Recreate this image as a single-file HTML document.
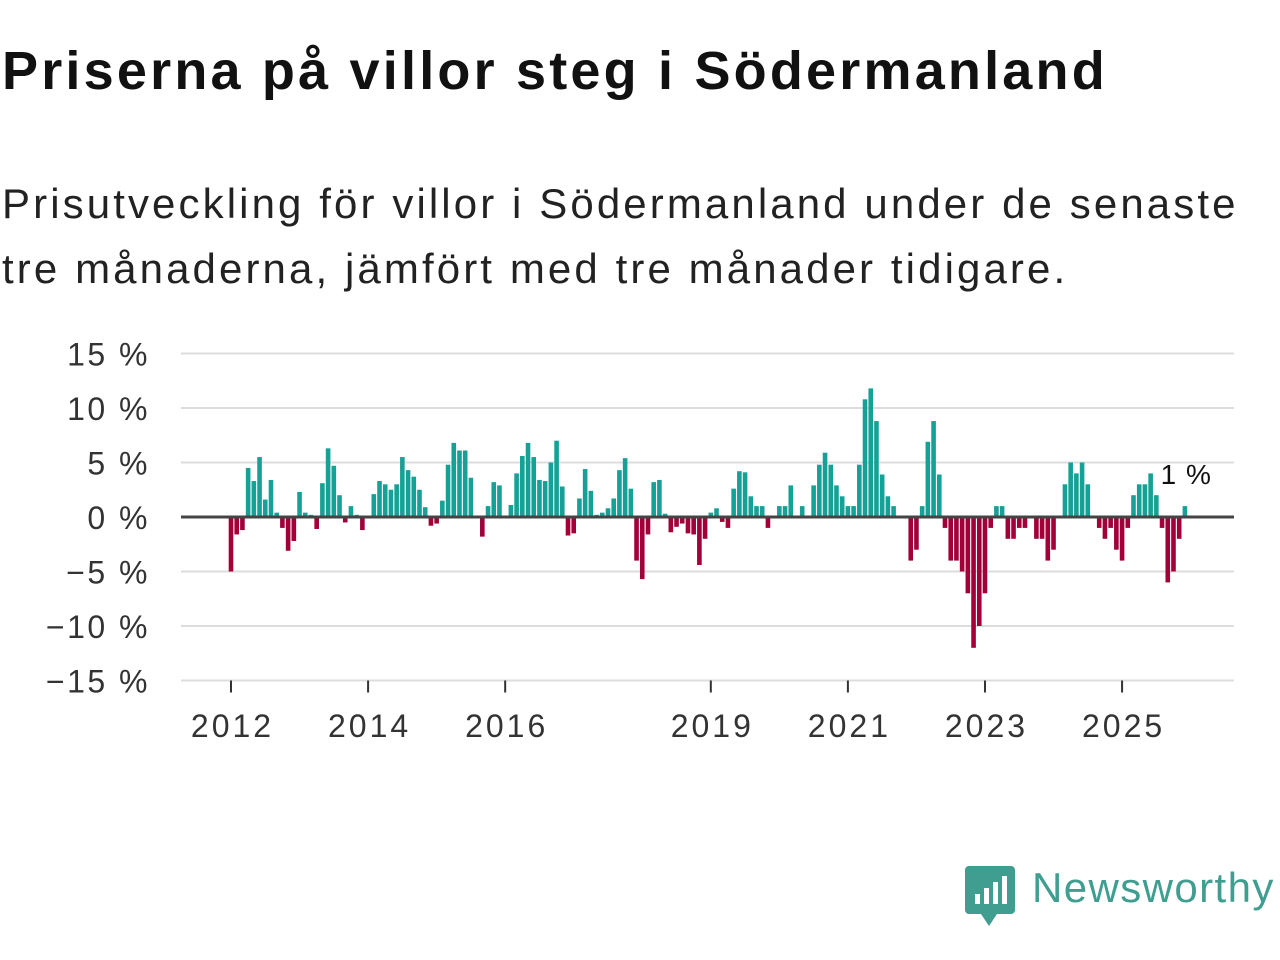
<!DOCTYPE html>
<html><head><meta charset="utf-8"><style>
body{margin:0;width:1280px;height:960px;background:#fff;font-family:"Liberation Sans",sans-serif;overflow:hidden;position:relative}
h1{position:absolute;left:2px;top:40px;margin:0;font-size:54px;font-weight:bold;color:#111;letter-spacing:3.2px;white-space:nowrap}
.sub{position:absolute;left:2px;top:171px;margin:0;font-size:42px;line-height:65px;color:#222;letter-spacing:3.1px;white-space:nowrap}
</style></head><body>
<h1>Priserna på villor steg i Södermanland</h1>
<p class="sub">Prisutveckling för villor i Södermanland under de senaste<br>tre månaderna, jämfört med tre månader tidigare.</p>
<svg id="chart" width="1280" height="960" style="position:absolute;left:0;top:0"></svg>
<div style="position:absolute;left:965px;top:866px">
<svg width="52" height="60"><path d="M4 0h42a4 4 0 0 1 4 4v40a4 4 0 0 1-4 4H32l-8 12-8-12H4a4 4 0 0 1-4-4V4a4 4 0 0 1 4-4z" fill="#3f9e90"/><rect x="10" y="28" width="5" height="10" fill="#fff"/><rect x="19" y="22" width="5" height="16" fill="#fff"/><rect x="28" y="16" width="5" height="22" fill="#fff"/><rect x="37" y="10" width="5" height="28" fill="#fff"/></svg>
</div>
<div style="position:absolute;left:1032px;top:864px;font-size:42px;color:#3f9e90;letter-spacing:1.4px">Newsworthy</div>
<script>
const yTicks=[15,10,5,0,-5,-10,-15];
const yearLabels=["2012","2014","2016","2019","2021","2023","2025"];
const yearIndex=[0,24,48,84,108,132,156];
const values=[-5,-1.6,-1.2,4.5,3.3,5.5,1.6,3.4,0.4,-1,-3.1,-2.2,2.3,0.4,0.2,-1.1,3.1,6.3,4.7,2,-0.5,1,0.2,-1.2,0,2.1,3.3,3,2.5,3,5.5,4.3,3.7,2.5,0.9,-0.8,-0.6,1.5,4.8,6.8,6.1,6.1,3.6,0,-1.8,1,3.2,2.9,0,1.1,4,5.6,6.8,5.5,3.4,3.3,5,7,2.8,-1.7,-1.5,1.7,4.4,2.4,0.2,0.4,0.8,1.7,4.3,5.4,2.6,-4,-5.7,-1.6,3.2,3.4,0.3,-1.4,-0.9,-0.6,-1.5,-1.6,-4.4,
-2,0.4,0.8,-0.45,-1,2.6,4.2,4.1,1.9,1,1,-1,0,1,1,2.9,0,1,0,2.9,4.8,5.9,4.8,2.9,1.9,1,1,4.8,10.8,11.8,8.8,3.9,1.9,1,0,0,-4,-3,1,6.9,8.8,3.9,-1,
-4,-4,-5,-7,-12,-10,-7,-1,1,1,-2,-2,-1,-1,0,-2,-2,-4,-3,0,3,5,4,5,3,0,-1,-2,-1,-3,-4,-1,2,3,3,4,2,-1,-6,-5,-2,1];
const lastLabel="1 %";
const NS="http://www.w3.org/2000/svg";
const svg=document.getElementById('chart');
const X0=181,X1=1234;
function y(v){return 517-v*10.9;}
function x(i){return 231+i*5.712;}
function mk(t,a,txt){const e=document.createElementNS(NS,t);for(const k in a)e.setAttribute(k,a[k]);if(txt!==undefined)e.textContent=txt;svg.appendChild(e);return e;}
yTicks.forEach(v=>{
  if(v!==0&&v!==-15){const g=mk('line',{x1:X0,x2:X1,y1:y(v),y2:y(v),stroke:'#ddd','stroke-width':2});
  
  }
  const t=mk('text',{x:150,y:y(v)+12,'text-anchor':'end','font-size':32,fill:'#333','letter-spacing':2.5,'font-family':'Liberation Sans, sans-serif'},(v<0?'\u2212'+(-v):v)+' %');
  
  
});
const ax=mk('line',{x1:X0,x2:X1,y1:y(-15),y2:y(-15),stroke:'#ddd','stroke-width':2});


yearLabels.forEach((l,k)=>{
  const xx=x(yearIndex[k]);
  const tk=mk('line',{x1:xx,x2:xx,y1:y(-15),y2:y(-15)+12,stroke:'#333','stroke-width':2});
  
  
  const t=mk('text',{x:xx+1.5,y:737,'text-anchor':'middle','font-size':32,fill:'#333','letter-spacing':3,'font-family':'Liberation Sans, sans-serif'},l);
  
  
});
values.forEach((v,i)=>{
  if(v===0)return;
  const top=Math.min(y(v),y(0)),h=Math.abs(y(v)-y(0));
  const r=mk('rect',{x:x(i)-2.3,y:top,width:4.6,height:h,fill:v>0?'#16a196':'#a10039'});
  
  
});
const z=mk('line',{x1:X0,x2:X1,y1:y(0),y2:y(0),stroke:'#444','stroke-width':3});


const n=values.length-1;
const lb=mk('text',{x:x(n)+27,y:484,'text-anchor':'end','font-size':28,fill:'#111','letter-spacing':1,'font-family':'Liberation Sans, sans-serif'},lastLabel);


</script>
</body></html>
